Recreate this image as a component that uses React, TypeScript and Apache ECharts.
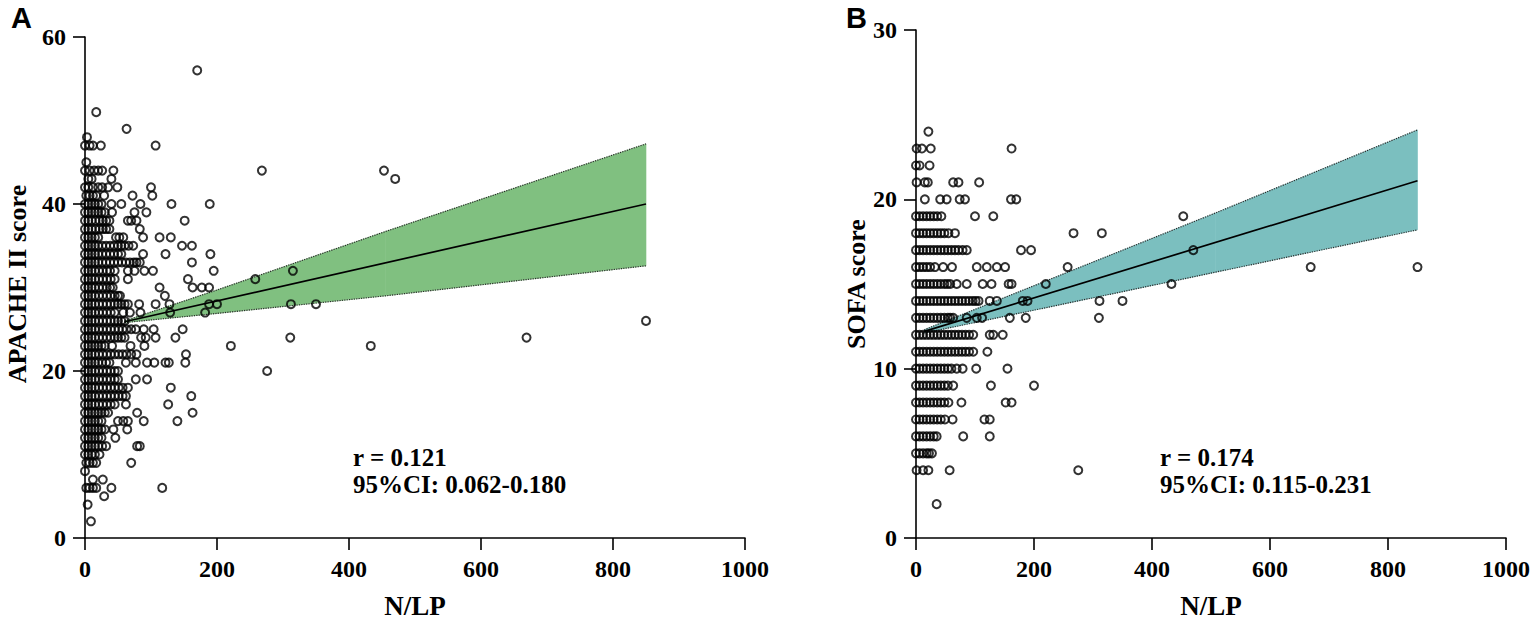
import { useEffect, useRef } from "react";
import * as echarts from "echarts";

const xTicks = [0, 200, 400, 600, 800, 1000];
const apacheTicks = [0, 20, 40, 60];
const sofaTicks = [0, 10, 20, 30];

// APACHE II score rows: [score, N/LP values at that score]
const apacheRows: [number, number[]][] = [
  [56, [170]],
  [51, [17]],
  [49, [63]],
  [48, [3]],
  [47, [0, 7, 12, 24, 107]],
  [45, [2]],
  [44, [0, 7, 14, 20, 26, 43, 268, 453]],
  [43, [5, 10, 40, 470]],
  [42, [0, 5, 12, 20, 26, 35, 49, 100]],
  [41, [2, 7, 12, 17, 29, 72, 102]],
  [40, [0, 5, 10, 15, 20, 25, 40, 55, 84, 131, 189]],
  [39, [0, 5, 10, 15, 20, 25, 30, 41, 75, 93]],
  [38, [0, 5, 10, 16, 22, 27, 32, 37, 65, 70, 78, 151]],
  [37, [0, 5, 10, 16, 22, 27, 32, 37, 83]],
  [36, [0, 5, 10, 15, 20, 47, 52, 58, 88, 113, 130]],
  [35, [0, 5, 10, 15, 20, 26, 32, 38, 44, 50, 55, 60, 66, 73, 147, 162]],
  [34, [0, 5, 10, 15, 20, 26, 32, 38, 44, 50, 55, 88, 122, 190]],
  [33, [0, 5, 10, 15, 20, 26, 32, 38, 44, 50, 56, 62, 68, 74, 78, 83, 162]],
  [32, [0, 5, 10, 15, 21, 27, 33, 38, 45, 65, 75, 90, 103, 195, 315]],
  [31, [0, 5, 10, 15, 21, 27, 33, 39, 45, 65, 156, 258]],
  [30, [0, 5, 10, 15, 21, 27, 33, 38, 42, 113, 163, 177, 188]],
  [29, [0, 5, 10, 15, 21, 27, 33, 39, 45, 50, 53, 121]],
  [28, [0, 5, 10, 15, 21, 27, 33, 39, 45, 50, 55, 60, 65, 82, 107, 128, 188, 200, 312, 350]],
  [27, [0, 5, 10, 15, 21, 27, 33, 39, 45, 58, 68, 84, 129, 182]],
  [26, [0, 5, 10, 15, 21, 27, 33, 39, 45, 50, 55, 60, 850]],
  [25, [0, 5, 10, 15, 21, 27, 33, 39, 45, 51, 57, 63, 70, 77, 89, 104, 148]],
  [24, [0, 5, 10, 15, 21, 27, 33, 39, 45, 50, 55, 60, 85, 92, 107, 137, 311, 669]],
  [23, [0, 5, 10, 15, 20, 25, 30, 41, 69, 90, 221, 433]],
  [22, [0, 5, 10, 15, 21, 27, 33, 39, 45, 51, 57, 63, 70, 78, 153]],
  [21, [0, 5, 10, 15, 20, 26, 32, 37, 62, 77, 94, 105, 122, 127, 152]],
  [20, [0, 5, 10, 15, 21, 27, 33, 39, 45, 50, 276]],
  [19, [0, 5, 10, 15, 21, 27, 33, 39, 45, 50, 77, 94]],
  [18, [0, 5, 10, 15, 21, 27, 33, 39, 45, 51, 57, 65, 130]],
  [17, [0, 5, 10, 15, 21, 27, 33, 39, 45, 51, 57, 62, 161]],
  [16, [0, 5, 10, 15, 21, 27, 33, 39, 45, 62, 126]],
  [15, [0, 5, 10, 15, 20, 25, 30, 35, 79, 163]],
  [14, [0, 5, 10, 15, 20, 25, 50, 58, 65, 89, 140]],
  [13, [0, 5, 10, 15, 20, 25, 30, 43, 64]],
  [12, [0, 5, 10, 15, 20, 25, 46]],
  [11, [0, 5, 10, 15, 20, 26, 32, 79, 83]],
  [10, [0, 5, 10, 15, 22]],
  [9, [2, 7, 12, 17, 70]],
  [8, [0]],
  [7, [12, 27]],
  [6, [2, 7, 12, 17, 40, 117]],
  [5, [29]],
  [4, [4]],
  [2, [9]],
];

// SOFA score rows: [score, N/LP values at that score]
const sofaRows: [number, number[]][] = [
  [24, [21]],
  [23, [1, 10, 25, 162]],
  [22, [0, 6, 23]],
  [21, [1, 15, 20, 63, 72, 107]],
  [20, [15, 41, 52, 74, 83, 161, 170]],
  [19, [0, 6, 12, 18, 24, 30, 36, 43, 100, 131, 453]],
  [18, [0, 6, 12, 18, 24, 30, 36, 42, 48, 55, 66, 267, 315]],
  [17, [0, 6, 12, 18, 24, 30, 36, 42, 48, 54, 60, 66, 72, 79, 86, 178, 195, 470]],
  [16, [0, 6, 12, 18, 24, 32, 46, 61, 103, 120, 137, 151, 257, 669, 850]],
  [15, [0, 6, 12, 18, 24, 30, 36, 42, 48, 53, 58, 69, 86, 113, 128, 157, 162, 220, 433]],
  [14, [0, 6, 12, 18, 24, 30, 36, 42, 48, 54, 60, 66, 72, 78, 84, 90, 96, 101, 106, 125, 137, 181, 189, 311, 350]],
  [13, [0, 6, 12, 18, 24, 30, 36, 42, 48, 54, 58, 63, 86, 103, 112, 159, 186, 310]],
  [12, [0, 6, 12, 18, 24, 30, 36, 42, 48, 54, 60, 66, 72, 78, 84, 90, 97, 125, 131, 147]],
  [11, [0, 6, 12, 18, 24, 30, 36, 42, 48, 54, 60, 66, 72, 78, 84, 90, 97, 121]],
  [10, [0, 6, 12, 18, 24, 30, 36, 42, 48, 54, 60, 69, 79, 102, 155]],
  [9, [0, 6, 12, 18, 24, 30, 36, 42, 48, 54, 63, 127, 200]],
  [8, [0, 6, 12, 18, 24, 30, 36, 42, 48, 55, 77, 152, 162]],
  [7, [0, 6, 12, 18, 24, 30, 36, 42, 49, 62, 116, 125]],
  [6, [0, 6, 12, 18, 24, 30, 35, 80, 125]],
  [5, [0, 6, 12, 18, 22, 27]],
  [4, [1, 12, 21, 57, 275]],
  [2, [35]],
];

// regression fit and 95% band: [x, lower, upper]
const apacheBand: [number, number, number][] = [
  [60, 25.8, 26.0],
  [200, 26.9, 29.7],
  [455, 29.0, 36.7],
  [850, 32.6, 47.2],
];
const apacheFit: [number, number][] = [
  [60, 25.9],
  [850, 40.0],
];
const sofaBand: [number, number, number][] = [
  [14, 12.1, 12.3],
  [508, 15.7, 19.2],
  [850, 18.2, 24.1],
];
const sofaFit: [number, number][] = [
  [14, 12.2],
  [850, 21.1],
];

const serif = "Liberation Serif";

function toPoints(rows: [number, number[]][]) {
  return rows.flatMap(([y, xs]) => xs.map((x) => [x, y]));
}

function bandSeries(band: [number, number, number][], idx: number, color: string) {
  return {
    type: "custom",
    xAxisIndex: idx,
    yAxisIndex: idx,
    z: 1,
    silent: true,
    data: band,
    encode: { x: 0, y: [1, 2] },
    renderItem: (params: any, api: any) => {
      const i = params.dataIndex;
      const a = band[i];
      const b = band[i + 1];
      if (!b) return { type: "group", children: [] };
      const pts = [
        api.coord([a[0], a[1]]),
        api.coord([b[0], b[1]]),
        api.coord([b[0], b[2]]),
        api.coord([a[0], a[2]]),
      ];
      return {
        type: "polygon",
        shape: { points: pts },
        style: { fill: color, stroke: color, lineWidth: 0.6 },
      };
    },
  };
}

function edgeSeries(data: number[][], idx: number) {
  return {
    type: "line",
    xAxisIndex: idx,
    yAxisIndex: idx,
    z: 2,
    silent: true,
    symbol: "none",
    data,
    lineStyle: { color: "#2b2b2b", width: 1.2, type: "dotted" },
  };
}

function fitSeries(data: number[][], idx: number) {
  return {
    type: "line",
    xAxisIndex: idx,
    yAxisIndex: idx,
    z: 3,
    silent: true,
    symbol: "none",
    data,
    lineStyle: { color: "#000", width: 1.7 },
  };
}

function scatterSeries(data: number[][], idx: number) {
  return {
    type: "scatter",
    xAxisIndex: idx,
    yAxisIndex: idx,
    z: 4,
    silent: true,
    symbol: "circle",
    symbolSize: 8,
    data,
    itemStyle: { color: "rgba(0,0,0,0)", borderColor: "#000", borderWidth: 2 },
  };
}

const tickLabel = {
  fontFamily: serif,
  fontWeight: "bold",
  fontSize: 24,
  color: "#000",
};

function xAxis(gridIndex: number) {
  return {
    type: "value",
    gridIndex,
    min: xTicks[0],
    max: xTicks[xTicks.length - 1],
    interval: xTicks[1] - xTicks[0],
    axisLine: { onZero: false, lineStyle: { color: "#000", width: 1.6 } },
    axisTick: { length: 12, lineStyle: { color: "#000", width: 1.6 } },
    splitLine: { show: false },
    axisLabel: { ...tickLabel, margin: 19, formatter: (v: number) => String(v) },
  };
}

function yAxis(gridIndex: number, ticks: number[]) {
  return {
    type: "value",
    gridIndex,
    min: ticks[0],
    max: ticks[ticks.length - 1],
    interval: ticks[1] - ticks[0],
    axisLine: { show: true, onZero: false, lineStyle: { color: "#000", width: 1.6 } },
    axisTick: { show: true, length: 12, lineStyle: { color: "#000", width: 1.6 } },
    splitLine: { show: false },
    axisLabel: { ...tickLabel, margin: 19, formatter: (v: number) => String(v) },
  };
}

function label(text: string, x: number, y: number, opts: any = {}) {
  return {
    type: "text",
    x,
    y,
    rotation: opts.rotation || 0,
    style: {
      text,
      fill: "#000",
      fontFamily: opts.family || serif,
      fontWeight: "bold",
      fontSize: opts.size || 25,
      textAlign: opts.align || "left",
      textVerticalAlign: "middle",
    },
  };
}

export default function App() {
  const ref = useRef<HTMLDivElement>(null);

  useEffect(() => {
    if (!ref.current) return;
    const chart = echarts.init(ref.current, undefined, { renderer: "svg" });

    chart.setOption({
      animation: false,
      backgroundColor: "#fff",
      grid: [
        { left: 85, top: 37, width: 660, height: 501 },
        { left: 916, top: 30, width: 590, height: 508 },
      ],
      xAxis: [xAxis(0), xAxis(1)],
      yAxis: [yAxis(0, apacheTicks), yAxis(1, sofaTicks)],
      graphic: [
        label("A", 11, 18, { family: "Liberation Sans", size: 29 }),
        label("B", 846, 18, { family: "Liberation Sans", size: 29 }),
        label("APACHE II score", 17, 284, { size: 26, align: "center", rotation: Math.PI / 2 }),
        label("SOFA score", 856, 284, { size: 26, align: "center", rotation: Math.PI / 2 }),
        label("N/LP", 415, 606, { size: 27, align: "center" }),
        label("N/LP", 1211, 606, { size: 27, align: "center" }),
        label("r = 0.121", 353, 457),
        label("95%CI: 0.062-0.180", 353, 484),
        label("r = 0.174", 1160, 457),
        label("95%CI: 0.115-0.231", 1160, 484),
      ],
      series: [
        bandSeries(apacheBand, 0, "#80c080"),
        edgeSeries(apacheBand.map((r) => [r[0], r[1]]), 0),
        edgeSeries(apacheBand.map((r) => [r[0], r[2]]), 0),
        fitSeries(apacheFit, 0),
        scatterSeries(toPoints(apacheRows), 0),
        bandSeries(sofaBand, 1, "#7bbfbf"),
        edgeSeries(sofaBand.map((r) => [r[0], r[1]]), 1),
        edgeSeries(sofaBand.map((r) => [r[0], r[2]]), 1),
        fitSeries(sofaFit, 1),
        scatterSeries(toPoints(sofaRows), 1),
      ],
    });

    return () => {
      chart.dispose();
    };
  }, []);

  return (
    <div
      ref={ref}
      style={{ position: "absolute", left: 0, top: 0, width: 1535, height: 622 }}
    />
  );
}
